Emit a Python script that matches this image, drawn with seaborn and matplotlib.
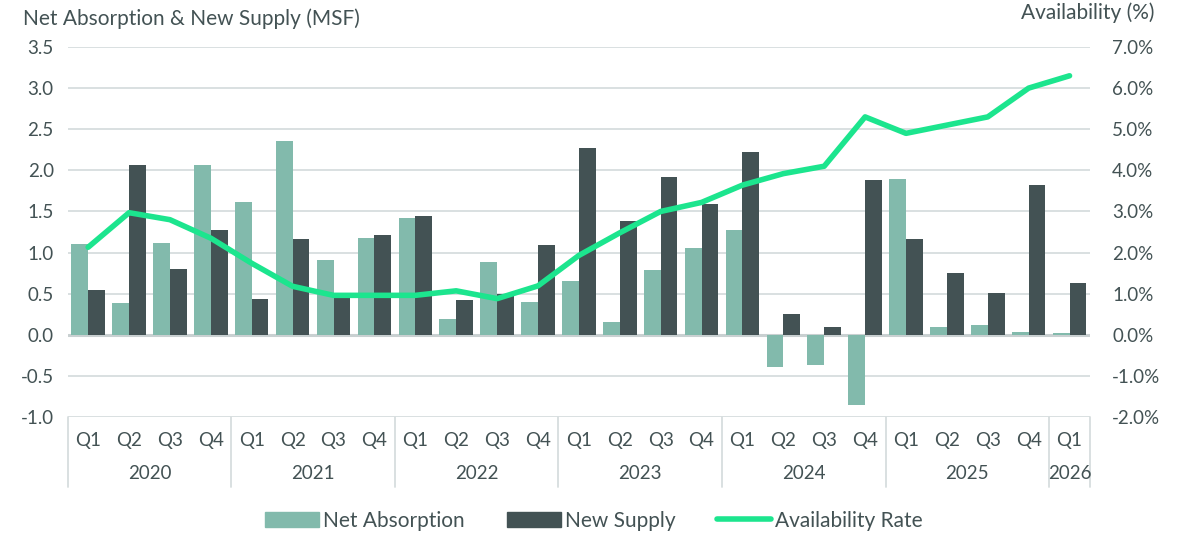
import numpy as np
import pandas as pd
import matplotlib.pyplot as plt
import seaborn as sns
from matplotlib.patches import Patch
from matplotlib.lines import Line2D
from matplotlib.ticker import FuncFormatter

years = ["2020", "2021", "2022", "2023", "2024", "2025", "2026"]
quarters = ["Q1", "Q2", "Q3", "Q4"] * 6 + ["Q1"]
net_absorption = [1.10, 0.39, 1.12, 2.07,
                  1.61, 2.36, 0.91, 1.18,
                  1.42, 0.19, 0.89, 0.40,
                  0.66, 0.15, 0.79, 1.06,
                  1.27, -0.39, -0.37, -0.85,
                  1.89, 0.09, 0.12, 0.04,
                  0.02]
new_supply = [0.55, 2.06, 0.80, 1.27,
              0.44, 1.17, 0.50, 1.21,
              1.45, 0.42, 0.50, 1.09,
              2.27, 1.39, 1.92, 1.59,
              2.22, 0.25, 0.10, 1.88,
              1.16, 0.75, 0.51, 1.82,
              0.63]
availability = [2.13, 2.97, 2.80, 2.35,
                1.74, 1.18, 0.96, 0.96,
                0.96, 1.07, 0.88, 1.19,
                1.93, 2.48, 3.00, 3.22,
                3.64, 3.92, 4.10, 5.30,
                4.90, 5.10, 5.30, 6.00,
                6.30]

c_light = "#82BAAC"
c_dark = "#435254"
c_line = "#1CE58E"
c_text = "#435254"
c_grid = "#D7DDDE"

n = len(quarters)
period = [f"{i:02d}" for i in range(n)]
df = pd.DataFrame({
    "period": period * 2,
    "value": net_absorption + new_supply,
    "series": ["Net Absorption"] * n + ["New Supply"] * n,
})
line_df = pd.DataFrame({"x": np.arange(n), "rate": availability})

sns.set_theme(style="white")
plt.rcParams["font.family"] = ["Lato", "DejaVu Sans"]

fig = plt.figure(figsize=(11.88, 5.34), dpi=100)
ax = fig.add_axes([0.057, 0.219, 0.8605, 0.693])

sns.barplot(data=df, x="period", y="value", hue="series", ax=ax,
            palette=[c_light, c_dark], width=0.82, saturation=1,
            linewidth=0, legend=False, zorder=3)

ax.set_ylim(-1.0, 3.5)
ax.set_xlim(-0.5, n - 0.5)
ax.set_yticks(np.arange(-1.0, 3.51, 0.5))
ax.yaxis.set_major_formatter(FuncFormatter(lambda v, p: f"{v:.1f}"))
for y in np.arange(-1.0, 3.51, 0.5):
    if abs(y) < 1e-9:
        ax.axhline(y, color="#C9D0D1", lw=2.2, zorder=2)
    else:
        ax.axhline(y, color=c_grid, lw=1.3, zorder=1)
ax.set_xticks(np.arange(n))
ax.set_xticklabels(quarters)
ax.tick_params(axis="x", length=0, pad=11, labelsize=13.5, labelcolor=c_text)
ax.tick_params(axis="y", length=0, pad=10, labelsize=13.5, labelcolor=c_text)
ax.set_xlabel("")
ax.set_ylabel("")
for s in ax.spines.values():
    s.set_visible(False)

ax2 = ax.twinx()
sns.lineplot(data=line_df, x="x", y="rate", ax=ax2, color=c_line, lw=4,
             solid_capstyle="round", zorder=5)
ax2.set_ylim(-2.0, 7.0)
ax2.set_yticks(np.arange(-2, 7.1, 1))
ax2.yaxis.set_major_formatter(FuncFormatter(lambda v, p: f"{v:.1f}%"))
ax2.tick_params(axis="y", length=0, pad=16, labelsize=13.5, labelcolor=c_text)
ax2.set_ylabel("")
ax2.set_xlabel("")
for s in ax2.spines.values():
    s.set_visible(False)

# year grouping below the quarter labels
trans = ax.get_xaxis_transform()
bounds = [-0.5, 3.5, 7.5, 11.5, 15.5, 19.5, 23.5, 24.5]
for b in bounds:
    ax.plot([b, b], [0, -0.19], transform=trans, color=c_grid, lw=1.3,
            clip_on=False)
for i, yr in enumerate(years):
    mid = (bounds[i] + bounds[i + 1]) / 2
    ax.text(mid, -0.153, yr, transform=trans, ha="center", va="center",
            fontsize=13.5, color=c_text)

fig.text(0.019, 0.965, "Net Absorption & New Supply (MSF)", fontsize=15,
         color=c_text, ha="left", va="center")
fig.text(0.972, 0.977, "Availability (%)", fontsize=15, color=c_text,
         ha="right", va="center")

handles = [Patch(color=c_light), Patch(color=c_dark),
           Line2D([0], [0], color=c_line, lw=4)]
fig.legend(handles, ["Net Absorption", "New Supply", "Availability Rate"],
           loc="center", bbox_to_anchor=(0.5, 0.025), ncol=3, frameon=False,
           fontsize=15, handlelength=2.6, handleheight=0.75, handletextpad=0.2,
           columnspacing=2.0, labelcolor=c_text)

fig.savefig("out.png", dpi=100)
